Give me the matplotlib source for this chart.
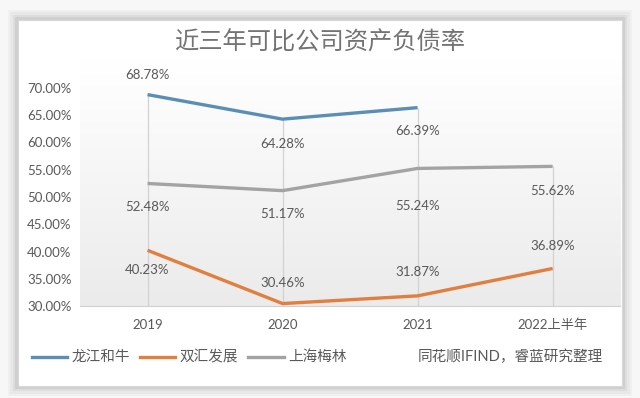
import numpy as np
import matplotlib.pyplot as plt
import matplotlib.patches as patches

plt.rcParams['font.family'] = ['Lato', 'Noto Sans CJK SC', 'DejaVu Sans']

# data
years = ["2019", "2020", "2021", "2022上半年"]
longjiang = [68.78, 64.28, 66.39]
shuanghui = [40.23, 30.46, 31.87, 36.89]
meilin = [52.48, 51.17, 55.24, 55.62]
yticks = [30, 35, 40, 45, 50, 55, 60, 65, 70]

# label offsets (points)
off_long = [14, -18, -17]
off_shuang = [-14, 15, 17, 16]
off_mei = [-17, -17, -27, -18]

c_blue = "#5a8eb5"
c_orange = "#e07f3e"
c_gray = "#a3a3a3"
c_text = "#595959"

fig = plt.figure(figsize=(6.4, 3.98), dpi=100)
fig.patch.set_facecolor("#f7f7f7")

# card with soft shadow
for i, a in enumerate([0.05, 0.07, 0.1, 0.14]):
    d = (4 - i) * 0.004
    fig.patches.append(patches.Rectangle((0.028 - d, 0.03 - d * 1.6), 0.944 + 2 * d, 0.92 + 2 * d * 1.6,
                                         transform=fig.transFigure, facecolor="#808080",
                                         edgecolor="none", alpha=a, zorder=-3))
fig.patches.append(patches.Rectangle((0.028, 0.03), 0.944, 0.92, transform=fig.transFigure,
                                     facecolor="white", edgecolor="#d8d8d8", lw=0.8, zorder=-2))

ax = fig.add_axes([0.125, 0.231, 0.844, 0.548])
ax.set_facecolor("none")
x = np.arange(len(years))

# gradient background
grad = np.linspace(0, 1, 100).reshape(-1, 1)
ax.imshow(grad, extent=[-0.5, 3.5, 30, 75], aspect="auto", origin="lower",
          cmap=plt.matplotlib.colors.LinearSegmentedColormap.from_list("g", ["#ebebeb", "#ffffff"]),
          zorder=0, clip_on=False)

# drop lines
tops = [max(v) for v in zip(longjiang + [0], shuanghui, meilin)]
ax.vlines(x, 30, tops, color="#d2d2d2", lw=0.9, zorder=1)

ax.plot(x[:3], longjiang, color=c_blue, lw=2.4, zorder=3, solid_capstyle="butt")
ax.plot(x, shuanghui, color=c_orange, lw=2.4, zorder=3, solid_capstyle="butt")
ax.plot(x, meilin, color=c_gray, lw=2.4, zorder=3, solid_capstyle="butt")

for xs, vals, offs in [(x[:3], longjiang, off_long), (x, shuanghui, off_shuang), (x, meilin, off_mei)]:
    for xi, v, o in zip(xs, vals, offs):
        ax.annotate(f"{v:.2f}%", (xi, v), xytext=(0, o), textcoords="offset points",
                    ha="center", va="center", fontsize=9.5, color=c_text, annotation_clip=False)

ax.set_xlim(-0.5, 3.5)
ax.set_ylim(30, 70)
ax.set_yticks(yticks)
ax.set_yticklabels([f"{t:.2f}%" for t in yticks])
ax.set_xticks(x)
ax.set_xticklabels(years)
ax.tick_params(axis="both", length=0, labelsize=9.5, colors=c_text)
ax.tick_params(axis="x", pad=9)
ax.tick_params(axis="y", pad=6)
for s in ["top", "right", "left"]:
    ax.spines[s].set_visible(False)
ax.spines["bottom"].set_color("#d0d0d0")

fig.text(0.5, 0.892, "近三年可比公司资产负债率", ha="center", va="center", fontsize=17.5,
         color="#737373", family=["Noto Sans CJK SC"], fontweight="light")

# legend
lx = [0.05, 0.219, 0.388]
names = ["龙江和牛", "双汇发展", "上海梅林"]
for xx, nm, c in zip(lx, names, [c_blue, c_orange, c_gray]):
    fig.add_artist(plt.Line2D([xx, xx + 0.055], [0.103, 0.103], color=c, lw=2.4,
                              transform=fig.transFigure))
    fig.text(xx + 0.062, 0.103, nm, ha="left", va="center", fontsize=10.5, color=c_text,
             family=["Noto Sans CJK SC"])
fig.text(0.653, 0.103, "同花顺IFIND，睿蓝研究整理", ha="left", va="center", fontsize=10.5,
         color=c_text, family=["Lato", "Noto Sans CJK SC"])

fig.savefig("out.png", dpi=100)
